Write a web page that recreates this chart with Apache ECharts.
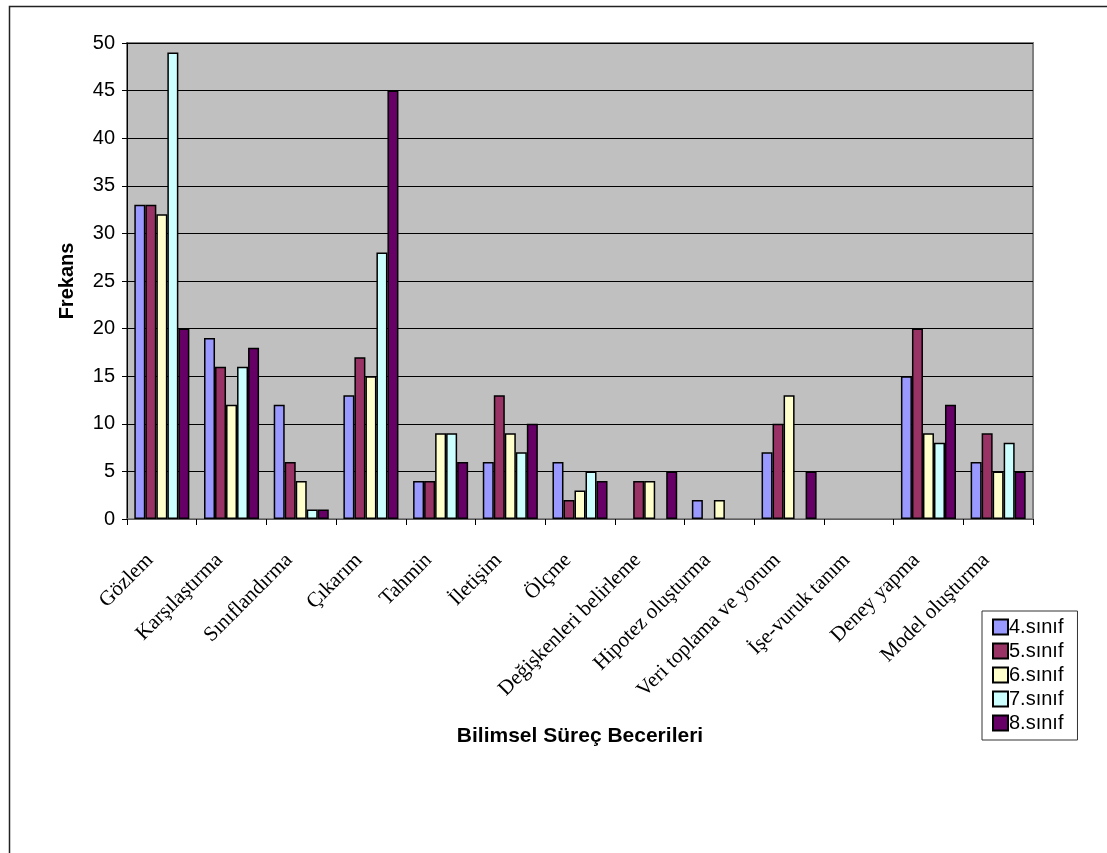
<!DOCTYPE html>
<html>
<head>
<meta charset="utf-8">
<script src="https://cdn.jsdelivr.net/npm/echarts@6/dist/echarts.min.js"></script>
<style>
  html, body { margin: 0; padding: 0; background: #fff; }
  #chart { width: 1107px; height: 853px; }
</style>
</head>
<body>
<div id="chart"></div>
<script>
// Skill categories along the x axis
const categories = [
  'Gözlem', 'Karşılaştırma', 'Sınıflandırma', 'Çıkarım', 'Tahmin', 'İletişim',
  'Ölçme', 'Değişkenleri belirleme', 'Hipotez oluşturma', 'Veri toplama ve yorum',
  'İşe-vuruk tanım', 'Deney yapma', 'Model oluşturma'
];

// Frequencies per grade level
const grade4 = [33, 19, 12, 13, 4, 6, 6, 0, 2, 7, 0, 15, 6];
const grade5 = [33, 16, 6, 17, 4, 13, 2, 4, 0, 10, 0, 20, 9];
const grade6 = [32, 12, 4, 15, 9, 9, 3, 4, 2, 13, 0, 9, 5];
const grade7 = [49, 16, 1, 28, 9, 7, 5, 0, 0, 0, 0, 8, 8];
const grade8 = [20, 18, 1, 45, 6, 10, 4, 5, 0, 5, 0, 12, 5];

const seriesNames = ['4.sınıf', '5.sınıf', '6.sınıf', '7.sınıf', '8.sınıf'];
const seriesData = [grade4, grade5, grade6, grade7, grade8];
const seriesColors = ['#9999FF', '#993366', '#FFFFCC', '#CCFFFF', '#660066'];

const yTicks = { min: 0, max: 50, interval: 5 };

const SANS = 'Arial, "Liberation Sans", sans-serif';
const SERIF = '"Liberation Serif", "Times New Roman", serif';

const chart = echarts.init(document.getElementById('chart'), null, { renderer: 'canvas' });

// Zero-height bars get no outline so they stay invisible on the axis
const series = seriesNames.map((name, i) => ({
  name: name,
  type: 'bar',
  data: seriesData[i].map(v => v === 0 ? { value: 0, itemStyle: { borderWidth: 0, opacity: 0 } } : v),
  barGap: '0%',
  barCategoryGap: '21%',
  itemStyle: {
    color: seriesColors[i],
    borderColor: '#000',
    borderWidth: 1.5
  },
  emphasis: { disabled: true }
}));

chart.setOption({
  animation: false,
  backgroundColor: '#fff',
  textStyle: { fontFamily: SANS },
  graphic: [{
    type: 'rect',
    shape: { x: 9.5, y: 6.5, width: 1200, height: 900 },
    style: { fill: 'none', stroke: '#222', lineWidth: 1.5 },
    silent: true,
    z: -1
  }],
  grid: {
    left: 127, top: 43, width: 906, height: 476,
    show: true,
    backgroundColor: '#C0C0C0',
    borderColor: '#808080',
    borderWidth: 2
  },
  legend: {
    orient: 'vertical',
    left: 982,
    top: 611,
    padding: [6, 14, 7, 10],
    itemGap: 4,
    itemWidth: 15,
    itemHeight: 15,
    icon: 'rect',
    borderColor: '#333',
    borderWidth: 1,
    backgroundColor: '#fff',
    textStyle: { fontSize: 20, color: '#000', padding: [0, 0, 0, -4], fontFamily: SANS },
    data: seriesNames
  },
  xAxis: {
    type: 'category',
    data: categories,
    name: 'Bilimsel Süreç Becerileri',
    nameLocation: 'middle',
    nameGap: 207,
    nameTextStyle: { fontSize: 21, fontWeight: 'bold', color: '#000', fontFamily: SANS },
    axisLine: { lineStyle: { color: '#808080', width: 1.5 } },
    axisTick: { show: true, alignWithLabel: false, length: 6, lineStyle: { color: '#000' } },
    axisLabel: {
      rotate: 45,
      interval: 0,
      margin: 26,
      padding: [0, 17, 0, 0],
      fontSize: 21,
      color: '#000',
      fontFamily: SERIF
    },
    splitLine: { show: false }
  },
  yAxis: {
    type: 'value',
    min: yTicks.min,
    max: yTicks.max,
    interval: yTicks.interval,
    name: 'Frekans',
    nameLocation: 'middle',
    nameRotate: 90,
    nameGap: 50,
    nameTextStyle: { fontSize: 20, fontWeight: 'bold', color: '#000', fontFamily: SANS },
    axisLine: { show: true, lineStyle: { color: '#000', width: 1 } },
    axisTick: { show: true, length: 5, lineStyle: { color: '#000' } },
    axisLabel: { fontSize: 20, color: '#000', margin: 12, fontFamily: SANS },
    splitLine: { show: true, lineStyle: { color: '#000', width: 1 } }
  },
  series: series
});
</script>
</body>
</html>
